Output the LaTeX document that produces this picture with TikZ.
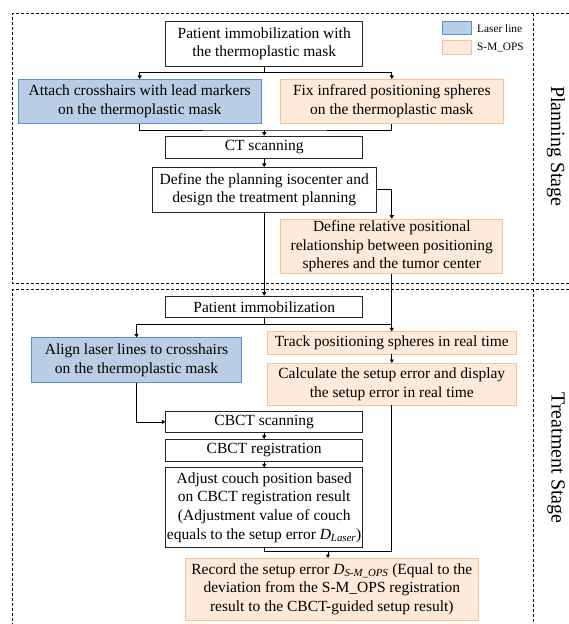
\documentclass[tikz,border=0pt]{standalone}
\usepackage{fontspec}
\setmainfont{Liberation Serif}
\usetikzlibrary{arrows.meta}
\definecolor{laserfill}{RGB}{185,205,229}
\definecolor{laserdraw}{RGB}{84,141,212}
\definecolor{smopsfill}{RGB}{253,234,218}
\definecolor{smopsdraw}{RGB}{250,192,144}
\tikzset{
  box/.style={draw=black!85, line width=0.7pt, fill=white, align=center, inner sep=0pt,
    font=\fontsize{15.5}{18.6}\selectfont},
  laser/.style={box, draw=laserdraw, fill=laserfill},
  smops/.style={box, draw=smopsdraw, fill=smopsfill},
  frame/.style={dash pattern=on 3pt off 2pt, line width=0.6pt},
  link/.style={-{Triangle[length=3.5pt,width=4pt]}, line width=0.7pt},
  stage/.style={rotate=-90, inner sep=0pt, font=\fontsize{20}{24}\selectfont},
  legtext/.style={anchor=west, inner sep=0pt, font=\fontsize{11.3}{13}\selectfont},
}
\begin{document}
\begin{tikzpicture}[x=1pt, y=-1pt]
  \useasboundingbox[fill=white] (0,0) rectangle (569,624);
  \draw[frame] (569,13.3) -- (12.3,13.3) -- (12.3,283.3) -- (569,283.3);
  \draw[frame] (533.3,13.3) -- (533.3,283.3);
  \draw[frame] (569,289.3) -- (12.3,289.3) -- (12.3,624);
  \draw[frame] (533.3,289.3) -- (533.3,624);
  \node[stage] (planstage) at (556,146.3) {Planning Stage};
  \node[stage] (treatstage) at (556,458) {Treatment Stage};
  \node[laser, minimum width=29.4, minimum height=12.6] (legA) at (457,28) {};
  \node[smops, minimum width=29.4, minimum height=13.3] (legB) at (457,47.3) {};
  \node[legtext] (legAt) at (477,28.5) {Laser line};
  \node[legtext] (legBt) at (477,47.5) {S-M\_OPS};
  \node[box, minimum width=197, minimum height=44.3] (immob1) at (264.2,43.8)
    {Patient immobilization with\\the thermoplastic mask};
  \node[laser, minimum width=242.7, minimum height=44] (cross) at (139.7,101.3)
    {Attach crosshairs with lead markers\\on the thermoplastic mask};
  \node[smops, minimum width=223.3, minimum height=44] (spheres) at (391.8,101.3)
    {Fix infrared positioning spheres\\on the thermoplastic mask};
  \node[box, minimum width=197, minimum height=22.3] (ct) at (264.2,147.2) {CT scanning};
  \node[box, minimum width=223.7, minimum height=45] (plan) at (264.2,189.8)
    {Define the planning isocenter and\\design the treatment planning};
  \node[smops, minimum width=222, minimum height=54.3] (relation) at (391.8,246.2)
    {Define relative positional\\relationship between positioning\\spheres and the tumor center};
  \node[box, minimum width=197, minimum height=21.3] (immob2) at (264.2,306.7) {Patient immobilization};
  \node[laser, minimum width=209.7, minimum height=45] (align) at (136.5,360.2)
    {Align laser lines to crosshairs\\on the thermoplastic mask};
  \node[smops, minimum width=248.5, minimum height=22.3] (track) at (391.8,342.8)
    {Track positioning spheres in real time};
  \node[smops, minimum width=248.5, minimum height=41.7] (calc) at (391.8,384.2)
    {Calculate the setup error and display\\the setup error in real time};
  \node[box, minimum width=197, minimum height=21.7] (cbct) at (264.2,421.9) {CBCT scanning};
  \node[box, minimum width=197, minimum height=22.4] (reg) at (264.2,450.5) {CBCT registration};
  \node[box, minimum width=197, minimum height=79.6] (adjust) at (264.2,507.5)
    {Adjust couch position based\\on CBCT registration result\\(Adjustment value of couch\\equals to the setup error \textit{D}\textsubscript{\textit{Laser}})};
  \node[smops, minimum width=293.3, minimum height=61.7] (record) at (331.8,589.2)
    {Record the setup error \textit{D}\textsubscript{\textit{S-M\_OPS}} (Equal to the\\deviation from the S-M\_OPS registration\\result to the CBCT-guided setup result)};
  \coordinate (s1) at (264.2,72.7);
  \coordinate (m1) at (264.2,130);
  \coordinate (s2) at (264.2,324.3);
  \coordinate (m2) at (328,551.7);
  \draw[line width=0.7pt] (immob1.south) -- (s1);
  \draw[link] (s1) -| (cross.north);
  \draw[link] (s1) -| (spheres.north);
  \draw[line width=0.7pt] (cross.south) |- (m1) -| (spheres.south);
  \draw[link] (m1) -- (ct.north);
  \draw[link] (ct) -- (plan);
  \draw[link] (plan.east) -| (relation.north);
  \draw[link] (plan.south) -- (immob2.north);
  \draw[line width=0.7pt] (immob2.south) -- (s2);
  \draw[link] (s2) -| (align.north);
  \draw[line width=0.7pt] (s2) -- (track.north |- s2);
  \draw[link] (relation.south) -- (track.north);
  \draw[link] (track) -- (calc);
  \draw[link] (align.south) |- (cbct.west);
  \draw[link] (cbct) -- (reg);
  \draw[link] (reg) -- (adjust);
  \draw[line width=0.7pt] (adjust.south) |- (m2) -| (calc.south);
  \draw[link] (m2) -- (m2 |- record.north);
\end{tikzpicture}
\end{document}
